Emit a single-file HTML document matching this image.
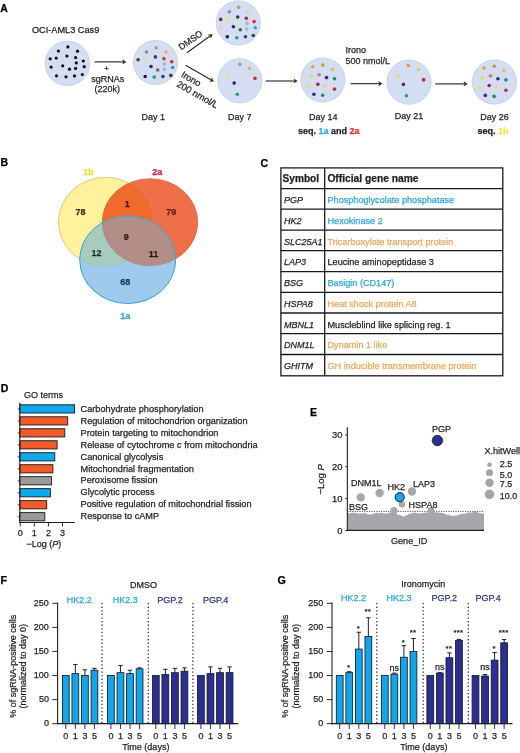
<!DOCTYPE html>
<html><head><meta charset="utf-8"><style>
html,body{margin:0;padding:0;background:#fff;}
body{width:520px;height:753px;overflow:hidden;}
svg{display:block;font-family:"Liberation Sans", sans-serif;will-change:transform;}
text{stroke-width:0.25px;}
</style></head><body>
<svg width="520" height="753" viewBox="0 0 520 753">
<rect width="520" height="753" fill="#fff"/>
<text x="0.3" y="12.1" font-size="10.5" font-weight="bold" font-style="normal" fill="#000" stroke="#000" text-anchor="start" >A</text>
<text x="31.9" y="33.1" font-size="9.2" font-weight="normal" font-style="normal" fill="#231f20" stroke="#231f20" text-anchor="start" >OCI-AML3 Cas9</text>
<circle cx="67.4" cy="63.4" r="22.3" fill="#d4ddf1" stroke="#c3cbe2" stroke-width="0.8"/>
<circle cx="67.9" cy="46.9" r="1.6" fill="#0d0d12"/>
<circle cx="58.4" cy="51.0" r="1.6" fill="#0d0d12"/>
<circle cx="77.5" cy="51.2" r="1.6" fill="#0d0d12"/>
<circle cx="50.2" cy="58.8" r="1.6" fill="#0d0d12"/>
<circle cx="56.2" cy="58.1" r="1.6" fill="#0d0d12"/>
<circle cx="66.9" cy="56.0" r="1.6" fill="#0d0d12"/>
<circle cx="75.6" cy="57.6" r="1.6" fill="#0d0d12"/>
<circle cx="83.3" cy="61.0" r="1.6" fill="#0d0d12"/>
<circle cx="76.3" cy="62.9" r="1.6" fill="#0d0d12"/>
<circle cx="62.7" cy="65.8" r="1.6" fill="#0d0d12"/>
<circle cx="51.1" cy="67.1" r="1.6" fill="#0d0d12"/>
<circle cx="84.2" cy="66.7" r="1.6" fill="#0d0d12"/>
<circle cx="69.5" cy="69.2" r="1.6" fill="#0d0d12"/>
<circle cx="75.6" cy="68.4" r="1.6" fill="#0d0d12"/>
<circle cx="56.5" cy="75.8" r="1.6" fill="#0d0d12"/>
<circle cx="66.0" cy="76.8" r="1.6" fill="#0d0d12"/>
<circle cx="74.5" cy="75.9" r="1.6" fill="#0d0d12"/>
<circle cx="82.3" cy="74.5" r="1.6" fill="#0d0d12"/>
<line x1="94.6" y1="61.9" x2="122.9" y2="61.9" stroke="#2a2a2a" stroke-width="1.15" />
<polygon points="126.40,61.90 122.40,64.50 123.20,61.90 122.40,59.30" fill="#2a2a2a"/>
<text x="106.6" y="70.6" font-size="8" font-weight="normal" font-style="normal" fill="#231f20" stroke="#231f20" text-anchor="middle" >+</text>
<text x="107.8" y="81.7" font-size="9" font-weight="normal" font-style="normal" fill="#231f20" stroke="#231f20" text-anchor="middle" >sgRNAs</text>
<text x="107.3" y="92.1" font-size="9" font-weight="normal" font-style="normal" fill="#231f20" stroke="#231f20" text-anchor="middle" >(220k)</text>
<circle cx="155.5" cy="62.5" r="22.1" fill="#d4ddf1" stroke="#c3cbe2" stroke-width="0.8"/>
<circle cx="156.2" cy="47.7" r="1.8" fill="#b59a72"/>
<circle cx="146.5" cy="52.1" r="1.8" fill="#8f8a9e"/>
<circle cx="166.0" cy="52.1" r="1.8" fill="#e2ad66"/>
<circle cx="138.1" cy="59.8" r="1.8" fill="#7d2447"/>
<circle cx="145.2" cy="59.2" r="1.8" fill="#e6e07a"/>
<circle cx="155.4" cy="56.9" r="1.8" fill="#27473a"/>
<circle cx="164.0" cy="58.8" r="1.8" fill="#b8432f"/>
<circle cx="171.7" cy="61.7" r="1.8" fill="#d92a34"/>
<circle cx="164.4" cy="64.0" r="1.8" fill="#9db5c6"/>
<circle cx="151.0" cy="66.5" r="1.8" fill="#2c2a6c"/>
<circle cx="157.7" cy="70.0" r="1.8" fill="#6b6262"/>
<circle cx="164.4" cy="69.4" r="1.8" fill="#8cc3da"/>
<circle cx="172.7" cy="67.5" r="1.8" fill="#3a9bb3"/>
<circle cx="145.2" cy="76.5" r="1.8" fill="#1b1b4a"/>
<circle cx="154.2" cy="77.1" r="1.8" fill="#1f9f82"/>
<circle cx="162.9" cy="76.5" r="1.8" fill="#2a3a7a"/>
<circle cx="170.8" cy="75.4" r="1.8" fill="#3a3a5a"/>
<line x1="186.9" y1="52.7" x2="209.7594201769398" y2="36.244775359012195" stroke="#2a2a2a" stroke-width="1.15" />
<polygon points="212.60,34.20 210.87,38.65 210.00,36.07 207.83,34.43" fill="#2a2a2a"/>
<line x1="185.6" y1="65.2" x2="210.86710229824462" y2="79.75313665941297" stroke="#2a2a2a" stroke-width="1.15" />
<polygon points="213.90,81.50 209.14,81.76 211.13,79.90 211.73,77.25" fill="#2a2a2a"/>
<text font-size="9" fill="#231f20" stroke="#231f20" transform="translate(181.3,50.6) rotate(-35.5)">DMSO</text>
<text font-size="9.3" fill="#231f20" stroke="#231f20" transform="translate(180.4,76.4) rotate(29.5)">Irono</text>
<text font-size="9.3" fill="#231f20" stroke="#231f20" transform="translate(176.0,86.0) rotate(29.5)">200 nmol/L</text>
<circle cx="238.3" cy="23.0" r="22.1" fill="#d4ddf1" stroke="#c3cbe2" stroke-width="0.8"/>
<circle cx="238.6" cy="7.3" r="1.8" fill="#b59a72"/>
<circle cx="229.4" cy="11.8" r="1.8" fill="#8f8a9e"/>
<circle cx="247.7" cy="11.8" r="1.8" fill="#ddd78f"/>
<circle cx="220.7" cy="19.4" r="1.8" fill="#7d2447"/>
<circle cx="227.0" cy="18.7" r="1.8" fill="#e6e07a"/>
<circle cx="237.7" cy="17.0" r="1.8" fill="#27473a"/>
<circle cx="246.3" cy="18.2" r="1.8" fill="#9a3040"/>
<circle cx="254.1" cy="21.6" r="1.8" fill="#d92a34"/>
<circle cx="247.2" cy="23.4" r="1.8" fill="#9db5c6"/>
<circle cx="221.2" cy="27.7" r="1.8" fill="#f0c8b4"/>
<circle cx="233.4" cy="26.8" r="1.8" fill="#2c2a6c"/>
<circle cx="240.3" cy="29.8" r="1.8" fill="#2f6b4a"/>
<circle cx="246.7" cy="29.1" r="1.8" fill="#8cc3da"/>
<circle cx="255.3" cy="27.7" r="1.8" fill="#2aa7d6"/>
<circle cx="227.3" cy="36.7" r="1.8" fill="#1b1b4a"/>
<circle cx="236.8" cy="37.7" r="1.8" fill="#1f9f82"/>
<circle cx="245.5" cy="36.7" r="1.8" fill="#2a3a7a"/>
<circle cx="253.3" cy="35.5" r="1.8" fill="#3a3a5a"/>
<circle cx="238.0" cy="23.0" r="1.6" fill="#e4e6b8"/>
<circle cx="239.8" cy="80.8" r="22.1" fill="#d4ddf1" stroke="#c3cbe2" stroke-width="0.8"/>
<circle cx="239.8" cy="64.4" r="1.8" fill="#b59a72"/>
<circle cx="249.5" cy="68.4" r="1.8" fill="#eab07a"/>
<circle cx="227.7" cy="75.3" r="1.8" fill="#e6e07a"/>
<circle cx="255.0" cy="78.4" r="1.8" fill="#d92a34"/>
<circle cx="234.2" cy="83.1" r="1.8" fill="#2c2a6c"/>
<circle cx="237.3" cy="94.3" r="1.8" fill="#1f9f6a"/>
<line x1="265.7" y1="81.0" x2="294.1" y2="81.0" stroke="#2a2a2a" stroke-width="1.15" />
<polygon points="297.60,81.00 293.60,83.60 294.40,81.00 293.60,78.40" fill="#2a2a2a"/>
<circle cx="322.9" cy="80.0" r="22.1" fill="#d4ddf1" stroke="#c3cbe2" stroke-width="0.8"/>
<circle cx="312.6" cy="66.8" r="1.8" fill="#e3a040"/>
<circle cx="322.8" cy="65.0" r="1.8" fill="#c8963a"/>
<circle cx="332.4" cy="69.4" r="1.8" fill="#d8c452"/>
<circle cx="311.2" cy="76.6" r="1.8" fill="#e8dc56"/>
<circle cx="319.1" cy="74.7" r="1.8" fill="#d47a52"/>
<circle cx="326.5" cy="77.6" r="1.8" fill="#3a2684"/>
<circle cx="334.5" cy="78.7" r="1.8" fill="#1f8f5a"/>
<circle cx="308.1" cy="85.8" r="1.8" fill="#ece060"/>
<circle cx="317.8" cy="84.3" r="1.8" fill="#a8204a"/>
<circle cx="325.0" cy="85.8" r="1.8" fill="#efd564"/>
<circle cx="334.5" cy="89.1" r="1.8" fill="#cc2a2e"/>
<circle cx="313.9" cy="94.2" r="1.8" fill="#452488"/>
<circle cx="322.7" cy="95.2" r="1.8" fill="#1f8f4f"/>
<line x1="350.5" y1="83.7" x2="378.9" y2="83.7" stroke="#2a2a2a" stroke-width="1.15" />
<polygon points="382.40,83.70 378.40,86.30 379.20,83.70 378.40,81.10" fill="#2a2a2a"/>
<text x="345.4" y="53.4" font-size="9" font-weight="normal" font-style="normal" fill="#231f20" stroke="#231f20" text-anchor="start" >Irono</text>
<text x="345.4" y="64.2" font-size="9" font-weight="normal" font-style="normal" fill="#231f20" stroke="#231f20" text-anchor="start" >500 nmol/L</text>
<circle cx="409.0" cy="82.2" r="22.1" fill="#d4ddf1" stroke="#c3cbe2" stroke-width="0.8"/>
<circle cx="408.3" cy="65.6" r="1.8" fill="#e0983a"/>
<circle cx="418.5" cy="69.6" r="1.8" fill="#e2c66a"/>
<circle cx="397.5" cy="76.3" r="1.8" fill="#ecdc5e"/>
<circle cx="423.6" cy="79.8" r="1.8" fill="#b8265a"/>
<circle cx="403.4" cy="84.4" r="1.8" fill="#5a2a8a"/>
<circle cx="406.4" cy="95.7" r="1.8" fill="#1fa57a"/>
<circle cx="423.6" cy="79.8" r="2.6" fill="#f2b8c0" opacity="0.7"/>
<circle cx="423.6" cy="79.8" r="1.8" fill="#b8265a"/>
<line x1="435.2" y1="83.9" x2="464.1" y2="83.9" stroke="#2a2a2a" stroke-width="1.15" />
<polygon points="467.60,83.90 463.60,86.50 464.40,83.90 463.60,81.30" fill="#2a2a2a"/>
<circle cx="494.4" cy="82.0" r="22.1" fill="#d4ddf1" stroke="#c3cbe2" stroke-width="0.8"/>
<circle cx="484.0" cy="68.0" r="1.8" fill="#e3a040"/>
<circle cx="494.20000000000005" cy="66.2" r="1.8" fill="#c8963a"/>
<circle cx="503.79999999999995" cy="70.60000000000001" r="1.8" fill="#d8c452"/>
<circle cx="482.6" cy="77.8" r="1.8" fill="#e8dc56"/>
<circle cx="490.5" cy="75.9" r="1.8" fill="#d47a52"/>
<circle cx="497.9" cy="78.8" r="1.8" fill="#3a2684"/>
<circle cx="505.9" cy="79.9" r="1.8" fill="#1f8f5a"/>
<circle cx="479.5" cy="87.0" r="1.8" fill="#ece060"/>
<circle cx="489.20000000000005" cy="85.5" r="1.8" fill="#a8204a"/>
<circle cx="496.4" cy="87.0" r="1.8" fill="#efd564"/>
<circle cx="505.9" cy="90.3" r="1.8" fill="#cc2a2e"/>
<circle cx="485.29999999999995" cy="95.4" r="1.8" fill="#452488"/>
<circle cx="494.1" cy="96.4" r="1.8" fill="#1f8f4f"/>
<text x="141.5" y="119.6" font-size="9" font-weight="normal" font-style="normal" fill="#231f20" stroke="#231f20" text-anchor="start" >Day 1</text>
<text x="228.0" y="119.6" font-size="9" font-weight="normal" font-style="normal" fill="#231f20" stroke="#231f20" text-anchor="start" >Day 7</text>
<text x="308.9" y="119.5" font-size="9" font-weight="normal" font-style="normal" fill="#231f20" stroke="#231f20" text-anchor="start" >Day 14</text>
<text x="394.8" y="119.4" font-size="9" font-weight="normal" font-style="normal" fill="#231f20" stroke="#231f20" text-anchor="start" >Day 21</text>
<text x="480.2" y="119.5" font-size="9" font-weight="normal" font-style="normal" fill="#231f20" stroke="#231f20" text-anchor="start" >Day 26</text>
<text x="298" y="134.4" font-size="9" font-weight="bold" fill="#231f20" stroke="#231f20">seq. <tspan fill="#27aae1" stroke="#27aae1">1a</tspan> and <tspan fill="#e8262d" stroke="#e8262d">2a</tspan></text>
<text x="477.5" y="134.4" font-size="9" font-weight="bold" fill="#231f20" stroke="#231f20">seq. <tspan fill="#f3e651" stroke="#f3e651">1b</tspan></text>
<text x="0.6" y="165.9" font-size="10.5" font-weight="bold" font-style="normal" fill="#000" stroke="#000" text-anchor="start" >B</text>
<defs><clipPath id="cY"><ellipse cx="105.5" cy="221.9" rx="47.0" ry="44.6" fill="#000" stroke="none" stroke-width="0" /></clipPath><clipPath id="cR"><ellipse cx="150.0" cy="222.2" rx="47.7" ry="43.5" fill="#000" stroke="none" stroke-width="0" /></clipPath><clipPath id="cB"><ellipse cx="127.7" cy="259.7" rx="48.0" ry="43.8" fill="#000" stroke="none" stroke-width="0" /></clipPath></defs>
<ellipse cx="105.5" cy="221.9" rx="47.0" ry="44.6" fill="#fef29c" stroke="#e2b665" stroke-width="0.8" />
<ellipse cx="150.0" cy="222.2" rx="47.7" ry="43.5" fill="#ef6f48" stroke="#e5643f" stroke-width="0.8" />
<g clip-path="url(#cY)"><ellipse cx="150.0" cy="222.2" rx="47.7" ry="43.5" fill="#f06a2e" stroke="none" stroke-width="0" /></g>
<g clip-path="url(#cR)"><ellipse cx="105.5" cy="221.9" rx="47.0" ry="44.6" fill="none" stroke="#e86a30" stroke-width="0.7" /></g>
<ellipse cx="127.7" cy="259.7" rx="48.0" ry="43.8" fill="#9fcaee" stroke="none" stroke-width="0" />
<g clip-path="url(#cB)"><ellipse cx="105.5" cy="221.9" rx="47.0" ry="44.6" fill="#a7ccbf" stroke="#9cc0b4" stroke-width="0.7" /></g>
<g clip-path="url(#cB)"><ellipse cx="150.0" cy="222.2" rx="47.7" ry="43.5" fill="#b38e88" stroke="#a98680" stroke-width="0.7" /></g>
<ellipse cx="127.7" cy="259.7" rx="48.0" ry="43.8" fill="none" stroke="#2fa9c9" stroke-width="1.0" />
<text x="83.0" y="175.0" font-size="9" font-weight="bold" font-style="normal" fill="#efe23a" stroke="#efe23a" text-anchor="start" >1b</text>
<text x="152.3" y="174.5" font-size="9" font-weight="bold" font-style="normal" fill="#d0203f" stroke="#d0203f" text-anchor="start" >2a</text>
<text x="120.2" y="318.8" font-size="9" font-weight="bold" font-style="normal" fill="#3a9fd0" stroke="#3a9fd0" text-anchor="start" >1a</text>
<text x="80.5" y="214.9" font-size="9" font-weight="bold" font-style="normal" fill="#3d3814" stroke="#3d3814" text-anchor="middle" >78</text>
<text x="171.2" y="214.6" font-size="9" font-weight="bold" font-style="normal" fill="#5a1c0c" stroke="#5a1c0c" text-anchor="middle" >79</text>
<text x="127.2" y="207.0" font-size="9" font-weight="bold" font-style="normal" fill="#4a1506" stroke="#4a1506" text-anchor="middle" >1</text>
<text x="126.3" y="240.4" font-size="9" font-weight="bold" font-style="normal" fill="#2e1a14" stroke="#2e1a14" text-anchor="middle" >9</text>
<text x="96.6" y="256.0" font-size="9" font-weight="bold" font-style="normal" fill="#1c302a" stroke="#1c302a" text-anchor="middle" >12</text>
<text x="153.6" y="257.2" font-size="9" font-weight="bold" font-style="normal" fill="#2e1a14" stroke="#2e1a14" text-anchor="middle" >11</text>
<text x="125.2" y="285.4" font-size="9" font-weight="bold" font-style="normal" fill="#12385a" stroke="#12385a" text-anchor="middle" >68</text>
<text x="260.5" y="166.5" font-size="10.5" font-weight="bold" font-style="normal" fill="#000" stroke="#000" text-anchor="start" >C</text>
<rect x="280.9" y="167.9" width="221.90000000000003" height="207.9" fill="none" stroke="#1a1a1a" stroke-width="1.3"/>
<line x1="280.9" y1="188.6" x2="502.8" y2="188.6" stroke="#1a1a1a" stroke-width="1.3" />
<line x1="280.9" y1="209.1" x2="502.8" y2="209.1" stroke="#1a1a1a" stroke-width="1.3" />
<line x1="280.9" y1="230.1" x2="502.8" y2="230.1" stroke="#1a1a1a" stroke-width="1.3" />
<line x1="280.9" y1="250.6" x2="502.8" y2="250.6" stroke="#1a1a1a" stroke-width="1.3" />
<line x1="280.9" y1="271.6" x2="502.8" y2="271.6" stroke="#1a1a1a" stroke-width="1.3" />
<line x1="280.9" y1="292.3" x2="502.8" y2="292.3" stroke="#1a1a1a" stroke-width="1.3" />
<line x1="280.9" y1="313.0" x2="502.8" y2="313.0" stroke="#1a1a1a" stroke-width="1.3" />
<line x1="280.9" y1="333.7" x2="502.8" y2="333.7" stroke="#1a1a1a" stroke-width="1.3" />
<line x1="280.9" y1="354.5" x2="502.8" y2="354.5" stroke="#1a1a1a" stroke-width="1.3" />
<line x1="324.7" y1="167.9" x2="324.7" y2="375.8" stroke="#1a1a1a" stroke-width="1.3" />
<text x="282.6" y="181.9" font-size="10.1" font-weight="bold" font-style="normal" fill="#231f20" stroke="#231f20" text-anchor="start" >Symbol</text>
<text x="327.4" y="181.9" font-size="10.25" font-weight="bold" font-style="normal" fill="#231f20" stroke="#231f20" text-anchor="start" >Official gene name</text>
<text x="283.9" y="203.1" font-size="9" font-weight="normal" font-style="italic" fill="#231f20" stroke="#231f20" text-anchor="start" >PGP</text>
<text x="327.5" y="203.1" font-size="9.12" font-weight="normal" font-style="normal" fill="#2ea7df" stroke="#2ea7df" text-anchor="start" >Phosphoglycolate phosphatase</text>
<text x="283.9" y="223.6" font-size="9" font-weight="normal" font-style="italic" fill="#231f20" stroke="#231f20" text-anchor="start" >HK2</text>
<text x="327.5" y="223.6" font-size="9.12" font-weight="normal" font-style="normal" fill="#2ea7df" stroke="#2ea7df" text-anchor="start" >Hexokinase 2</text>
<text x="283.9" y="244.6" font-size="9" font-weight="normal" font-style="italic" fill="#231f20" stroke="#231f20" text-anchor="start" >SLC25A1</text>
<text x="327.5" y="244.6" font-size="9.12" font-weight="normal" font-style="normal" fill="#eea85a" stroke="#eea85a" text-anchor="start" >Tricarboxylate transport protein</text>
<text x="283.9" y="265.1" font-size="9" font-weight="normal" font-style="italic" fill="#231f20" stroke="#231f20" text-anchor="start" >LAP3</text>
<text x="327.5" y="265.1" font-size="9.12" font-weight="normal" font-style="normal" fill="#231f20" stroke="#231f20" text-anchor="start" >Leucine aminopeptidase 3</text>
<text x="283.9" y="286.1" font-size="9" font-weight="normal" font-style="italic" fill="#231f20" stroke="#231f20" text-anchor="start" >BSG</text>
<text x="327.5" y="286.1" font-size="9.12" font-weight="normal" font-style="normal" fill="#2ea7df" stroke="#2ea7df" text-anchor="start" >Basigin (CD147)</text>
<text x="283.9" y="306.8" font-size="9" font-weight="normal" font-style="italic" fill="#231f20" stroke="#231f20" text-anchor="start" >HSPA8</text>
<text x="327.5" y="306.8" font-size="9.12" font-weight="normal" font-style="normal" fill="#eea85a" stroke="#eea85a" text-anchor="start" >Heat shock protein A8</text>
<text x="283.9" y="327.5" font-size="9" font-weight="normal" font-style="italic" fill="#231f20" stroke="#231f20" text-anchor="start" >MBNL1</text>
<text x="327.5" y="327.5" font-size="9.12" font-weight="normal" font-style="normal" fill="#231f20" stroke="#231f20" text-anchor="start" >Muscleblind like splicing reg. 1</text>
<text x="283.9" y="348.2" font-size="9" font-weight="normal" font-style="italic" fill="#231f20" stroke="#231f20" text-anchor="start" >DNM1L</text>
<text x="327.5" y="348.2" font-size="9.12" font-weight="normal" font-style="normal" fill="#eea85a" stroke="#eea85a" text-anchor="start" >Dynamin 1 like</text>
<text x="283.9" y="369.0" font-size="9" font-weight="normal" font-style="italic" fill="#231f20" stroke="#231f20" text-anchor="start" >GHITM</text>
<text x="327.5" y="369.0" font-size="9.12" font-weight="normal" font-style="normal" fill="#eea85a" stroke="#eea85a" text-anchor="start" >GH inducible transmembrane protein</text>
<text x="0.8" y="391.9" font-size="10.5" font-weight="bold" font-style="normal" fill="#000" stroke="#000" text-anchor="start" >D</text>
<text x="24.0" y="397.7" font-size="9" font-weight="normal" font-style="normal" fill="#231f20" stroke="#231f20" text-anchor="start" >GO terms</text>
<rect x="19.8" y="404.80" width="54.80" height="8.2" fill="#0fa8ec" stroke="#1a1a1a" stroke-width="0.9"/>
<line x1="17.6" y1="408.9" x2="19.8" y2="408.9" stroke="#231f20" stroke-width="0.8" />
<text x="80.5" y="411.60" font-size="9.2" fill="#231f20" stroke="#231f20">Carbohydrate phosphorylation</text>
<rect x="19.8" y="416.78" width="47.90" height="8.2" fill="#f15a29" stroke="#1a1a1a" stroke-width="0.9"/>
<line x1="17.6" y1="420.88" x2="19.8" y2="420.88" stroke="#231f20" stroke-width="0.8" />
<text x="80.5" y="423.58" font-size="9.2" fill="#231f20" stroke="#231f20">Regulation of mitochondrion organization</text>
<rect x="19.8" y="428.76" width="45.00" height="8.2" fill="#f15a29" stroke="#1a1a1a" stroke-width="0.9"/>
<line x1="17.6" y1="432.85999999999996" x2="19.8" y2="432.85999999999996" stroke="#231f20" stroke-width="0.8" />
<text x="80.5" y="435.56" font-size="9.2" fill="#231f20" stroke="#231f20">Protein targeting to mitochondrion</text>
<rect x="19.8" y="440.74" width="37.30" height="8.2" fill="#f15a29" stroke="#1a1a1a" stroke-width="0.9"/>
<line x1="17.6" y1="444.84" x2="19.8" y2="444.84" stroke="#231f20" stroke-width="0.8" />
<text x="80.5" y="447.54" font-size="9.2" fill="#231f20" stroke="#231f20">Release of cytochrome <tspan font-style="italic">c</tspan> from mitochondria</text>
<rect x="19.8" y="452.72" width="35.00" height="8.2" fill="#0fa8ec" stroke="#1a1a1a" stroke-width="0.9"/>
<line x1="17.6" y1="456.82" x2="19.8" y2="456.82" stroke="#231f20" stroke-width="0.8" />
<text x="80.5" y="459.52" font-size="9.2" fill="#231f20" stroke="#231f20">Canonical glycolysis</text>
<rect x="19.8" y="464.70" width="33.10" height="8.2" fill="#f15a29" stroke="#1a1a1a" stroke-width="0.9"/>
<line x1="17.6" y1="468.79999999999995" x2="19.8" y2="468.79999999999995" stroke="#231f20" stroke-width="0.8" />
<text x="80.5" y="471.50" font-size="9.2" fill="#231f20" stroke="#231f20">Mitochondrial fragmentation</text>
<rect x="19.8" y="476.68" width="31.80" height="8.2" fill="#999a9c" stroke="#1a1a1a" stroke-width="0.9"/>
<line x1="17.6" y1="480.78" x2="19.8" y2="480.78" stroke="#231f20" stroke-width="0.8" />
<text x="80.5" y="483.48" font-size="9.2" fill="#231f20" stroke="#231f20">Peroxisome fission</text>
<rect x="19.8" y="488.66" width="30.60" height="8.2" fill="#0fa8ec" stroke="#1a1a1a" stroke-width="0.9"/>
<line x1="17.6" y1="492.76" x2="19.8" y2="492.76" stroke="#231f20" stroke-width="0.8" />
<text x="80.5" y="495.46" font-size="9.2" fill="#231f20" stroke="#231f20">Glycolytic process</text>
<rect x="19.8" y="500.64" width="26.90" height="8.2" fill="#f15a29" stroke="#1a1a1a" stroke-width="0.9"/>
<line x1="17.6" y1="504.74" x2="19.8" y2="504.74" stroke="#231f20" stroke-width="0.8" />
<text x="80.5" y="507.44" font-size="9.2" fill="#231f20" stroke="#231f20">Positive regulation of mitochondrial fission</text>
<rect x="19.8" y="512.62" width="25.00" height="8.2" fill="#999a9c" stroke="#1a1a1a" stroke-width="0.9"/>
<line x1="17.6" y1="516.72" x2="19.8" y2="516.72" stroke="#231f20" stroke-width="0.8" />
<text x="80.5" y="519.42" font-size="9.2" fill="#231f20" stroke="#231f20">Response to cAMP</text>
<line x1="19.8" y1="402.7" x2="19.8" y2="523.0" stroke="#231f20" stroke-width="1.1" />
<line x1="19.3" y1="522.5" x2="74.8" y2="522.5" stroke="#231f20" stroke-width="1.1" />
<line x1="20.2" y1="522.5" x2="20.2" y2="526.5" stroke="#231f20" stroke-width="0.95" />
<text x="20.2" y="536.0" font-size="9" font-weight="normal" font-style="normal" fill="#231f20" stroke="#231f20" text-anchor="middle" >0</text>
<line x1="34.3" y1="522.5" x2="34.3" y2="526.5" stroke="#231f20" stroke-width="0.95" />
<text x="34.3" y="536.0" font-size="9" font-weight="normal" font-style="normal" fill="#231f20" stroke="#231f20" text-anchor="middle" >1</text>
<line x1="48.4" y1="522.5" x2="48.4" y2="526.5" stroke="#231f20" stroke-width="0.95" />
<text x="48.4" y="536.0" font-size="9" font-weight="normal" font-style="normal" fill="#231f20" stroke="#231f20" text-anchor="middle" >2</text>
<line x1="62.5" y1="522.5" x2="62.5" y2="526.5" stroke="#231f20" stroke-width="0.95" />
<text x="62.5" y="536.0" font-size="9" font-weight="normal" font-style="normal" fill="#231f20" stroke="#231f20" text-anchor="middle" >3</text>
<text x="43.8" y="546.5" font-size="9" fill="#231f20" stroke="#231f20" text-anchor="middle">−Log (<tspan font-style="italic">P</tspan>)</text>
<text x="310.0" y="416.2" font-size="10.5" font-weight="bold" font-style="normal" fill="#000" stroke="#000" text-anchor="start" >E</text>
<polygon points="347.4,530.4 347.4,513.4 348.6,513.1 349.8,513.4 351.0,512.7 352.2,513.0 353.4,512.7 354.6,512.6 355.8,513.3 357.0,513.1 358.2,513.7 359.4,513.4 360.6,513.2 361.8,513.4 363.0,513.6 364.2,512.8 365.4,513.0 366.6,513.8 367.8,514.4 369.0,514.3 370.2,514.4 371.4,514.7 372.6,513.6 373.8,514.1 375.0,513.3 376.2,513.0 377.4,512.8 378.6,512.9 379.8,513.3 381.0,512.5 382.2,513.1 383.4,513.4 384.6,513.3 385.8,513.7 387.0,513.4 388.2,512.9 389.4,512.6 390.6,512.7 391.8,512.0 393.0,511.9 394.2,512.8 395.4,513.2 396.6,513.6 397.8,514.7 399.0,515.1 400.2,515.0 401.4,515.8 402.6,516.2 403.8,516.8 405.0,516.1 406.2,515.1 407.4,515.2 408.6,513.8 409.8,513.7 411.0,513.7 412.2,512.8 413.4,512.9 414.6,512.2 415.8,512.9 417.0,513.2 418.2,513.2 419.4,513.6 420.6,513.2 421.8,513.3 423.0,513.0 424.2,512.8 425.4,512.4 426.6,512.6 427.8,512.4 429.0,511.7 430.2,511.6 431.4,510.8 432.6,511.7 433.8,511.9 435.0,512.5 436.2,512.6 437.4,512.3 438.6,512.6 439.8,513.1 441.0,512.7 442.2,513.3 443.4,513.3 444.6,513.7 445.8,514.0 447.0,515.1 448.2,514.8 449.4,515.1 450.6,515.4 451.8,516.1 453.0,515.5 454.2,515.8 455.4,515.6 456.6,515.6 457.8,515.2 459.0,514.9 460.2,514.1 461.4,514.0 462.6,513.7 463.8,514.0 465.0,513.8 466.2,512.9 467.4,512.7 468.6,512.6 469.8,512.4 471.0,512.5 472.2,512.5 473.4,512.0 474.6,511.6 475.8,511.9 477.0,512.0 478.2,512.5 479.4,513.1 480.6,513.2 481.8,513.2 483.0,513.5 484.0,513.7 484,530.4" fill="#a6a7ab"/>
<line x1="347.4" y1="511.4" x2="484.0" y2="511.4" stroke="#231f20" stroke-width="0.8" stroke-dasharray="1.2,1.2"/>
<line x1="347.4" y1="427.3" x2="347.4" y2="531.0" stroke="#3a3a3a" stroke-width="1.3" />
<line x1="346.9" y1="530.4" x2="484.0" y2="530.4" stroke="#231f20" stroke-width="1.1" />
<line x1="345.4" y1="434.88" x2="347.4" y2="434.88" stroke="#231f20" stroke-width="1.0" />
<text x="342.4" y="438.18" font-size="9.4" font-weight="normal" font-style="normal" fill="#231f20" stroke="#231f20" text-anchor="end" >30</text>
<line x1="345.4" y1="466.71999999999997" x2="347.4" y2="466.71999999999997" stroke="#231f20" stroke-width="1.0" />
<text x="342.4" y="470.02" font-size="9.4" font-weight="normal" font-style="normal" fill="#231f20" stroke="#231f20" text-anchor="end" >20</text>
<line x1="345.4" y1="498.55999999999995" x2="347.4" y2="498.55999999999995" stroke="#231f20" stroke-width="1.0" />
<text x="342.4" y="501.85999999999996" font-size="9.4" font-weight="normal" font-style="normal" fill="#231f20" stroke="#231f20" text-anchor="end" >10</text>
<line x1="345.4" y1="530.4" x2="347.4" y2="530.4" stroke="#231f20" stroke-width="1.0" />
<text x="342.4" y="533.6999999999999" font-size="9.4" font-weight="normal" font-style="normal" fill="#231f20" stroke="#231f20" text-anchor="end" >0</text>
<text font-size="9.5" fill="#231f20" stroke="#231f20" text-anchor="middle" transform="translate(324.4,479.4) rotate(-90)">−Log <tspan font-style="italic">P</tspan></text>
<circle cx="394.0" cy="510.6" r="3.5" fill="#a7a8aa"/>
<circle cx="431.0" cy="510.4" r="3.5" fill="#a7a8aa"/>
<circle cx="360.7" cy="497.4" r="4.2" fill="#a7a8aa"/>
<circle cx="379.6" cy="493.0" r="4.2" fill="#a7a8aa"/>
<circle cx="411.9" cy="491.5" r="4.2" fill="#a7a8aa"/>
<circle cx="402.0" cy="504.2" r="3.2" fill="#a7a8aa"/>
<circle cx="399.7" cy="497.2" r="4.6" fill="#12a8ea" stroke="#111" stroke-width="0.9"/>
<circle cx="437.4" cy="440.5" r="5.2" fill="#2b3090" stroke="#1a1a40" stroke-width="0.9"/>
<text x="432.0" y="432.3" font-size="9" font-weight="normal" font-style="normal" fill="#231f20" stroke="#231f20" text-anchor="start" >PGP</text>
<text x="351.0" y="486.0" font-size="9" font-weight="normal" font-style="normal" fill="#231f20" stroke="#231f20" text-anchor="start" >DNM1L</text>
<text x="387.6" y="489.8" font-size="9" font-weight="normal" font-style="normal" fill="#231f20" stroke="#231f20" text-anchor="start" >HK2</text>
<text x="413.0" y="486.6" font-size="9" font-weight="normal" font-style="normal" fill="#231f20" stroke="#231f20" text-anchor="start" >LAP3</text>
<text x="348.9" y="510.0" font-size="9" font-weight="normal" font-style="normal" fill="#231f20" stroke="#231f20" text-anchor="start" >BSG</text>
<text x="408.6" y="507.5" font-size="9" font-weight="normal" font-style="normal" fill="#231f20" stroke="#231f20" text-anchor="start" >HSPA8</text>
<text x="409.2" y="543.8" font-size="9.1" font-weight="normal" font-style="normal" fill="#231f20" stroke="#231f20" text-anchor="middle" >Gene_ID</text>
<text x="484.6" y="454.4" font-size="9" font-weight="normal" font-style="normal" fill="#231f20" stroke="#231f20" text-anchor="start" >X.hitWell</text>
<circle cx="489.5" cy="464.8" r="2.3" fill="#a3a4a8"/>
<text x="499.8" y="467.4" font-size="9" font-weight="normal" font-style="normal" fill="#231f20" stroke="#231f20" text-anchor="start" >2.5</text>
<circle cx="489.5" cy="472.7" r="3.5" fill="#a3a4a8"/>
<text x="499.8" y="477.5" font-size="9" font-weight="normal" font-style="normal" fill="#231f20" stroke="#231f20" text-anchor="start" >5.0</text>
<circle cx="489.5" cy="482.8" r="4.2" fill="#a3a4a8"/>
<text x="499.8" y="487.4" font-size="9" font-weight="normal" font-style="normal" fill="#231f20" stroke="#231f20" text-anchor="start" >7.5</text>
<circle cx="489.5" cy="494.3" r="4.8" fill="#a3a4a8"/>
<text x="499.8" y="498.6" font-size="9" font-weight="normal" font-style="normal" fill="#231f20" stroke="#231f20" text-anchor="start" >10.0</text>
<text x="0.4" y="584.3" font-size="10.8" font-weight="bold" font-style="normal" fill="#000" stroke="#000" text-anchor="start" >F</text>
<text x="143.6" y="587.6" font-size="9" font-weight="normal" font-style="normal" fill="#231f20" stroke="#231f20" text-anchor="middle" >DMSO</text>
<line x1="57.6" y1="602.5" x2="57.6" y2="724.2" stroke="#231f20" stroke-width="1.1" />
<line x1="52.300000000000004" y1="723.7" x2="57.6" y2="723.7" stroke="#231f20" stroke-width="0.95" />
<text x="48.900000000000006" y="726.2" font-size="9" font-weight="normal" font-style="normal" fill="#231f20" stroke="#231f20" text-anchor="end" >0</text>
<line x1="52.300000000000004" y1="699.625" x2="57.6" y2="699.625" stroke="#231f20" stroke-width="0.95" />
<text x="48.900000000000006" y="702.125" font-size="9" font-weight="normal" font-style="normal" fill="#231f20" stroke="#231f20" text-anchor="end" >50</text>
<line x1="52.300000000000004" y1="675.5500000000001" x2="57.6" y2="675.5500000000001" stroke="#231f20" stroke-width="0.95" />
<text x="48.900000000000006" y="678.0500000000001" font-size="9" font-weight="normal" font-style="normal" fill="#231f20" stroke="#231f20" text-anchor="end" >100</text>
<line x1="52.300000000000004" y1="651.475" x2="57.6" y2="651.475" stroke="#231f20" stroke-width="0.95" />
<text x="48.900000000000006" y="653.975" font-size="9" font-weight="normal" font-style="normal" fill="#231f20" stroke="#231f20" text-anchor="end" >150</text>
<line x1="52.300000000000004" y1="627.4000000000001" x2="57.6" y2="627.4000000000001" stroke="#231f20" stroke-width="0.95" />
<text x="48.900000000000006" y="629.9000000000001" font-size="9" font-weight="normal" font-style="normal" fill="#231f20" stroke="#231f20" text-anchor="end" >200</text>
<line x1="52.300000000000004" y1="603.325" x2="57.6" y2="603.325" stroke="#231f20" stroke-width="0.95" />
<text x="48.900000000000006" y="605.825" font-size="9" font-weight="normal" font-style="normal" fill="#231f20" stroke="#231f20" text-anchor="end" >250</text>
<line x1="57.1" y1="723.7" x2="238.4" y2="723.7" stroke="#231f20" stroke-width="1.3" />
<text font-size="9" fill="#231f20" stroke="#231f20" text-anchor="middle" transform="translate(15.6,666.3) rotate(-90)">% of sgRNA-positive cells</text>
<text font-size="9" fill="#231f20" stroke="#231f20" text-anchor="middle" transform="translate(26.2,666.3) rotate(-90)">(normalized to day 0)</text>
<line x1="102.0" y1="603.0" x2="102.0" y2="723.2" stroke="#231f20" stroke-width="1.2" stroke-dasharray="1.3,2.3"/>
<line x1="148.3" y1="603.0" x2="148.3" y2="723.2" stroke="#231f20" stroke-width="1.2" stroke-dasharray="1.3,2.3"/>
<line x1="192.9" y1="603.0" x2="192.9" y2="723.2" stroke="#231f20" stroke-width="1.2" stroke-dasharray="1.3,2.3"/>
<text x="66.7" y="603.4" font-size="9" font-weight="normal" font-style="normal" fill="#27aae1" stroke="#27aae1" text-anchor="start" >HK2.2</text>
<rect x="62.40" y="675.55" width="6.8" height="48.15" fill="#12a5e8" stroke="#161a2a" stroke-width="0.85"/>
<line x1="65.8" y1="723.7" x2="65.8" y2="729.0" stroke="#231f20" stroke-width="0.9" />
<text x="65.8" y="738.9" font-size="9" font-weight="normal" font-style="normal" fill="#231f20" stroke="#231f20" text-anchor="middle" >0</text>
<line x1="75.35000000000001" y1="664.4755" x2="75.35000000000001" y2="673.624" stroke="#231f20" stroke-width="1.0" />
<line x1="73.15" y1="664.4755" x2="77.55000000000001" y2="664.4755" stroke="#231f20" stroke-width="1.0" />
<rect x="71.95" y="673.62" width="6.8" height="50.08" fill="#12a5e8" stroke="#161a2a" stroke-width="0.85"/>
<line x1="75.35000000000001" y1="723.7" x2="75.35000000000001" y2="729.0" stroke="#231f20" stroke-width="0.9" />
<text x="75.35000000000001" y="738.9" font-size="9" font-weight="normal" font-style="normal" fill="#231f20" stroke="#231f20" text-anchor="middle" >1</text>
<line x1="84.9" y1="669.772" x2="84.9" y2="675.5500000000001" stroke="#231f20" stroke-width="1.0" />
<line x1="82.7" y1="669.772" x2="87.10000000000001" y2="669.772" stroke="#231f20" stroke-width="1.0" />
<rect x="81.50" y="675.55" width="6.8" height="48.15" fill="#12a5e8" stroke="#161a2a" stroke-width="0.85"/>
<line x1="84.9" y1="723.7" x2="84.9" y2="729.0" stroke="#231f20" stroke-width="0.9" />
<text x="84.9" y="738.9" font-size="9" font-weight="normal" font-style="normal" fill="#231f20" stroke="#231f20" text-anchor="middle" >3</text>
<line x1="94.45" y1="668.3275000000001" x2="94.45" y2="670.2535" stroke="#231f20" stroke-width="1.0" />
<line x1="92.25" y1="668.3275000000001" x2="96.65" y2="668.3275000000001" stroke="#231f20" stroke-width="1.0" />
<rect x="91.05" y="670.25" width="6.8" height="53.45" fill="#12a5e8" stroke="#161a2a" stroke-width="0.85"/>
<line x1="94.45" y1="723.7" x2="94.45" y2="729.0" stroke="#231f20" stroke-width="0.9" />
<text x="94.45" y="738.9" font-size="9" font-weight="normal" font-style="normal" fill="#231f20" stroke="#231f20" text-anchor="middle" >5</text>
<text x="112.7" y="603.4" font-size="9" font-weight="normal" font-style="normal" fill="#27aae1" stroke="#27aae1" text-anchor="start" >HK2.3</text>
<rect x="107.50" y="675.55" width="6.8" height="48.15" fill="#12a5e8" stroke="#161a2a" stroke-width="0.85"/>
<line x1="110.9" y1="723.7" x2="110.9" y2="729.0" stroke="#231f20" stroke-width="0.9" />
<text x="110.9" y="738.9" font-size="9" font-weight="normal" font-style="normal" fill="#231f20" stroke="#231f20" text-anchor="middle" >0</text>
<line x1="120.45" y1="665.4385000000001" x2="120.45" y2="672.6610000000001" stroke="#231f20" stroke-width="1.0" />
<line x1="118.25" y1="665.4385000000001" x2="122.65" y2="665.4385000000001" stroke="#231f20" stroke-width="1.0" />
<rect x="117.05" y="672.66" width="6.8" height="51.04" fill="#12a5e8" stroke="#161a2a" stroke-width="0.85"/>
<line x1="120.45" y1="723.7" x2="120.45" y2="729.0" stroke="#231f20" stroke-width="0.9" />
<text x="120.45" y="738.9" font-size="9" font-weight="normal" font-style="normal" fill="#231f20" stroke="#231f20" text-anchor="middle" >1</text>
<line x1="130.0" y1="670.2535" x2="130.0" y2="673.624" stroke="#231f20" stroke-width="1.0" />
<line x1="127.8" y1="670.2535" x2="132.2" y2="670.2535" stroke="#231f20" stroke-width="1.0" />
<rect x="126.60" y="673.62" width="6.8" height="50.08" fill="#12a5e8" stroke="#161a2a" stroke-width="0.85"/>
<line x1="130.0" y1="723.7" x2="130.0" y2="729.0" stroke="#231f20" stroke-width="0.9" />
<text x="130.0" y="738.9" font-size="9" font-weight="normal" font-style="normal" fill="#231f20" stroke="#231f20" text-anchor="middle" >3</text>
<line x1="139.55" y1="667.846" x2="139.55" y2="668.8090000000001" stroke="#231f20" stroke-width="1.0" />
<line x1="137.35000000000002" y1="667.846" x2="141.75" y2="667.846" stroke="#231f20" stroke-width="1.0" />
<rect x="136.15" y="668.81" width="6.8" height="54.89" fill="#12a5e8" stroke="#161a2a" stroke-width="0.85"/>
<line x1="139.55" y1="723.7" x2="139.55" y2="729.0" stroke="#231f20" stroke-width="0.9" />
<text x="139.55" y="738.9" font-size="9" font-weight="normal" font-style="normal" fill="#231f20" stroke="#231f20" text-anchor="middle" >5</text>
<text x="157.3" y="603.4" font-size="9" font-weight="normal" font-style="normal" fill="#2e3192" stroke="#2e3192" text-anchor="start" >PGP.2</text>
<rect x="152.40" y="675.55" width="6.8" height="48.15" fill="#2c2e90" stroke="#161a2a" stroke-width="0.85"/>
<line x1="155.8" y1="723.7" x2="155.8" y2="729.0" stroke="#231f20" stroke-width="0.9" />
<text x="155.8" y="738.9" font-size="9" font-weight="normal" font-style="normal" fill="#231f20" stroke="#231f20" text-anchor="middle" >0</text>
<line x1="165.35000000000002" y1="669.2905000000001" x2="165.35000000000002" y2="674.587" stroke="#231f20" stroke-width="1.0" />
<line x1="163.15000000000003" y1="669.2905000000001" x2="167.55" y2="669.2905000000001" stroke="#231f20" stroke-width="1.0" />
<rect x="161.95" y="674.59" width="6.8" height="49.11" fill="#2c2e90" stroke="#161a2a" stroke-width="0.85"/>
<line x1="165.35000000000002" y1="723.7" x2="165.35000000000002" y2="729.0" stroke="#231f20" stroke-width="0.9" />
<text x="165.35000000000002" y="738.9" font-size="9" font-weight="normal" font-style="normal" fill="#231f20" stroke="#231f20" text-anchor="middle" >1</text>
<line x1="174.9" y1="668.3275000000001" x2="174.9" y2="672.6610000000001" stroke="#231f20" stroke-width="1.0" />
<line x1="172.70000000000002" y1="668.3275000000001" x2="177.1" y2="668.3275000000001" stroke="#231f20" stroke-width="1.0" />
<rect x="171.50" y="672.66" width="6.8" height="51.04" fill="#2c2e90" stroke="#161a2a" stroke-width="0.85"/>
<line x1="174.9" y1="723.7" x2="174.9" y2="729.0" stroke="#231f20" stroke-width="0.9" />
<text x="174.9" y="738.9" font-size="9" font-weight="normal" font-style="normal" fill="#231f20" stroke="#231f20" text-anchor="middle" >3</text>
<line x1="184.45000000000002" y1="667.846" x2="184.45000000000002" y2="671.2165" stroke="#231f20" stroke-width="1.0" />
<line x1="182.25000000000003" y1="667.846" x2="186.65" y2="667.846" stroke="#231f20" stroke-width="1.0" />
<rect x="181.05" y="671.22" width="6.8" height="52.48" fill="#2c2e90" stroke="#161a2a" stroke-width="0.85"/>
<line x1="184.45000000000002" y1="723.7" x2="184.45000000000002" y2="729.0" stroke="#231f20" stroke-width="0.9" />
<text x="184.45000000000002" y="738.9" font-size="9" font-weight="normal" font-style="normal" fill="#231f20" stroke="#231f20" text-anchor="middle" >5</text>
<text x="203.0" y="603.4" font-size="9" font-weight="normal" font-style="normal" fill="#2e3192" stroke="#2e3192" text-anchor="start" >PGP.4</text>
<rect x="197.50" y="675.55" width="6.8" height="48.15" fill="#2c2e90" stroke="#161a2a" stroke-width="0.85"/>
<line x1="200.9" y1="723.7" x2="200.9" y2="729.0" stroke="#231f20" stroke-width="0.9" />
<text x="200.9" y="738.9" font-size="9" font-weight="normal" font-style="normal" fill="#231f20" stroke="#231f20" text-anchor="middle" >0</text>
<line x1="210.45000000000002" y1="666.883" x2="210.45000000000002" y2="673.624" stroke="#231f20" stroke-width="1.0" />
<line x1="208.25000000000003" y1="666.883" x2="212.65" y2="666.883" stroke="#231f20" stroke-width="1.0" />
<rect x="207.05" y="673.62" width="6.8" height="50.08" fill="#2c2e90" stroke="#161a2a" stroke-width="0.85"/>
<line x1="210.45000000000002" y1="723.7" x2="210.45000000000002" y2="729.0" stroke="#231f20" stroke-width="0.9" />
<text x="210.45000000000002" y="738.9" font-size="9" font-weight="normal" font-style="normal" fill="#231f20" stroke="#231f20" text-anchor="middle" >1</text>
<line x1="220.0" y1="668.3275000000001" x2="220.0" y2="672.6610000000001" stroke="#231f20" stroke-width="1.0" />
<line x1="217.8" y1="668.3275000000001" x2="222.2" y2="668.3275000000001" stroke="#231f20" stroke-width="1.0" />
<rect x="216.60" y="672.66" width="6.8" height="51.04" fill="#2c2e90" stroke="#161a2a" stroke-width="0.85"/>
<line x1="220.0" y1="723.7" x2="220.0" y2="729.0" stroke="#231f20" stroke-width="0.9" />
<text x="220.0" y="738.9" font-size="9" font-weight="normal" font-style="normal" fill="#231f20" stroke="#231f20" text-anchor="middle" >3</text>
<line x1="229.55" y1="666.883" x2="229.55" y2="672.6610000000001" stroke="#231f20" stroke-width="1.0" />
<line x1="227.35000000000002" y1="666.883" x2="231.75" y2="666.883" stroke="#231f20" stroke-width="1.0" />
<rect x="226.15" y="672.66" width="6.8" height="51.04" fill="#2c2e90" stroke="#161a2a" stroke-width="0.85"/>
<line x1="229.55" y1="723.7" x2="229.55" y2="729.0" stroke="#231f20" stroke-width="0.9" />
<text x="229.55" y="738.9" font-size="9" font-weight="normal" font-style="normal" fill="#231f20" stroke="#231f20" text-anchor="middle" >5</text>
<text x="145.8" y="750.2" font-size="9" font-weight="normal" font-style="normal" fill="#231f20" stroke="#231f20" text-anchor="middle" >Time (days)</text>
<text x="277.5" y="584.3" font-size="10.8" font-weight="bold" font-style="normal" fill="#000" stroke="#000" text-anchor="start" >G</text>
<text x="423.2" y="586.5" font-size="9" font-weight="normal" font-style="normal" fill="#231f20" stroke="#231f20" text-anchor="middle" >Ironomycin</text>
<line x1="332.0" y1="602.5" x2="332.0" y2="724.2" stroke="#231f20" stroke-width="1.1" />
<line x1="326.7" y1="723.7" x2="332.0" y2="723.7" stroke="#231f20" stroke-width="0.95" />
<text x="323.3" y="726.2" font-size="9" font-weight="normal" font-style="normal" fill="#231f20" stroke="#231f20" text-anchor="end" >0</text>
<line x1="326.7" y1="699.625" x2="332.0" y2="699.625" stroke="#231f20" stroke-width="0.95" />
<text x="323.3" y="702.125" font-size="9" font-weight="normal" font-style="normal" fill="#231f20" stroke="#231f20" text-anchor="end" >50</text>
<line x1="326.7" y1="675.5500000000001" x2="332.0" y2="675.5500000000001" stroke="#231f20" stroke-width="0.95" />
<text x="323.3" y="678.0500000000001" font-size="9" font-weight="normal" font-style="normal" fill="#231f20" stroke="#231f20" text-anchor="end" >100</text>
<line x1="326.7" y1="651.475" x2="332.0" y2="651.475" stroke="#231f20" stroke-width="0.95" />
<text x="323.3" y="653.975" font-size="9" font-weight="normal" font-style="normal" fill="#231f20" stroke="#231f20" text-anchor="end" >150</text>
<line x1="326.7" y1="627.4000000000001" x2="332.0" y2="627.4000000000001" stroke="#231f20" stroke-width="0.95" />
<text x="323.3" y="629.9000000000001" font-size="9" font-weight="normal" font-style="normal" fill="#231f20" stroke="#231f20" text-anchor="end" >200</text>
<line x1="326.7" y1="603.325" x2="332.0" y2="603.325" stroke="#231f20" stroke-width="0.95" />
<text x="323.3" y="605.825" font-size="9" font-weight="normal" font-style="normal" fill="#231f20" stroke="#231f20" text-anchor="end" >250</text>
<line x1="331.5" y1="723.7" x2="512.5" y2="723.7" stroke="#231f20" stroke-width="1.3" />
<text font-size="9" fill="#231f20" stroke="#231f20" text-anchor="middle" transform="translate(288.0,666.3) rotate(-90)">% of sgRNA-positive cells</text>
<text font-size="9" fill="#231f20" stroke="#231f20" text-anchor="middle" transform="translate(298.6,666.3) rotate(-90)">(normalized to day 0)</text>
<line x1="376.8" y1="603.0" x2="376.8" y2="723.2" stroke="#231f20" stroke-width="1.2" stroke-dasharray="1.3,2.3"/>
<line x1="423.2" y1="603.0" x2="423.2" y2="723.2" stroke="#231f20" stroke-width="1.2" stroke-dasharray="1.3,2.3"/>
<line x1="468.3" y1="603.0" x2="468.3" y2="723.2" stroke="#231f20" stroke-width="1.2" stroke-dasharray="1.3,2.3"/>
<text x="341.0" y="601.1" font-size="9" font-weight="normal" font-style="normal" fill="#27aae1" stroke="#27aae1" text-anchor="start" >HK2.2</text>
<rect x="336.30" y="675.55" width="6.8" height="48.15" fill="#12a5e8" stroke="#161a2a" stroke-width="0.85"/>
<line x1="339.7" y1="723.7" x2="339.7" y2="729.0" stroke="#231f20" stroke-width="0.9" />
<text x="339.7" y="738.9" font-size="9" font-weight="normal" font-style="normal" fill="#231f20" stroke="#231f20" text-anchor="middle" >0</text>
<line x1="349.25" y1="671.6980000000001" x2="349.25" y2="672.6610000000001" stroke="#231f20" stroke-width="1.0" />
<line x1="347.05" y1="671.6980000000001" x2="351.45" y2="671.6980000000001" stroke="#231f20" stroke-width="1.0" />
<rect x="345.85" y="672.66" width="6.8" height="51.04" fill="#12a5e8" stroke="#161a2a" stroke-width="0.85"/>
<line x1="349.25" y1="723.7" x2="349.25" y2="729.0" stroke="#231f20" stroke-width="0.9" />
<text x="349.25" y="738.9" font-size="9" font-weight="normal" font-style="normal" fill="#231f20" stroke="#231f20" text-anchor="middle" >1</text>
<text x="348.65" y="669.60" font-size="8" fill="#231f20" stroke="#231f20" text-anchor="middle">*</text>
<line x1="358.8" y1="632.215" x2="358.8" y2="649.0675000000001" stroke="#231f20" stroke-width="1.0" />
<line x1="356.6" y1="632.215" x2="361.0" y2="632.215" stroke="#231f20" stroke-width="1.0" />
<rect x="355.40" y="649.07" width="6.8" height="74.63" fill="#12a5e8" stroke="#161a2a" stroke-width="0.85"/>
<line x1="358.8" y1="723.7" x2="358.8" y2="729.0" stroke="#231f20" stroke-width="0.9" />
<text x="358.8" y="738.9" font-size="9" font-weight="normal" font-style="normal" fill="#231f20" stroke="#231f20" text-anchor="middle" >3</text>
<text x="358.20" y="630.70" font-size="8" fill="#231f20" stroke="#231f20" text-anchor="middle">*</text>
<line x1="368.34999999999997" y1="617.7700000000001" x2="368.34999999999997" y2="636.5485000000001" stroke="#231f20" stroke-width="1.0" />
<line x1="366.15" y1="617.7700000000001" x2="370.54999999999995" y2="617.7700000000001" stroke="#231f20" stroke-width="1.0" />
<rect x="364.95" y="636.55" width="6.8" height="87.15" fill="#12a5e8" stroke="#161a2a" stroke-width="0.85"/>
<line x1="368.34999999999997" y1="723.7" x2="368.34999999999997" y2="729.0" stroke="#231f20" stroke-width="0.9" />
<text x="368.34999999999997" y="738.9" font-size="9" font-weight="normal" font-style="normal" fill="#231f20" stroke="#231f20" text-anchor="middle" >5</text>
<text x="366.10" y="613.90" font-size="8" fill="#231f20" stroke="#231f20" text-anchor="middle">*</text>
<text x="369.40" y="613.90" font-size="8" fill="#231f20" stroke="#231f20" text-anchor="middle">*</text>
<text x="386.6" y="601.1" font-size="9" font-weight="normal" font-style="normal" fill="#27aae1" stroke="#27aae1" text-anchor="start" >HK2.3</text>
<rect x="381.40" y="675.55" width="6.8" height="48.15" fill="#12a5e8" stroke="#161a2a" stroke-width="0.85"/>
<line x1="384.79999999999995" y1="723.7" x2="384.79999999999995" y2="729.0" stroke="#231f20" stroke-width="0.9" />
<text x="384.79999999999995" y="738.9" font-size="9" font-weight="normal" font-style="normal" fill="#231f20" stroke="#231f20" text-anchor="middle" >0</text>
<line x1="394.34999999999997" y1="673.1425" x2="394.34999999999997" y2="674.1055" stroke="#231f20" stroke-width="1.0" />
<line x1="392.15" y1="673.1425" x2="396.54999999999995" y2="673.1425" stroke="#231f20" stroke-width="1.0" />
<rect x="390.95" y="674.11" width="6.8" height="49.59" fill="#12a5e8" stroke="#161a2a" stroke-width="0.85"/>
<line x1="394.34999999999997" y1="723.7" x2="394.34999999999997" y2="729.0" stroke="#231f20" stroke-width="0.9" />
<text x="394.34999999999997" y="738.9" font-size="9" font-weight="normal" font-style="normal" fill="#231f20" stroke="#231f20" text-anchor="middle" >1</text>
<text x="394.34999999999997" y="670.8" font-size="9" font-weight="normal" font-style="normal" fill="#231f20" stroke="#231f20" text-anchor="middle" >ns</text>
<line x1="403.9" y1="645.697" x2="403.9" y2="657.253" stroke="#231f20" stroke-width="1.0" />
<line x1="401.7" y1="645.697" x2="406.09999999999997" y2="645.697" stroke="#231f20" stroke-width="1.0" />
<rect x="400.50" y="657.25" width="6.8" height="66.45" fill="#12a5e8" stroke="#161a2a" stroke-width="0.85"/>
<line x1="403.9" y1="723.7" x2="403.9" y2="729.0" stroke="#231f20" stroke-width="0.9" />
<text x="403.9" y="738.9" font-size="9" font-weight="normal" font-style="normal" fill="#231f20" stroke="#231f20" text-anchor="middle" >3</text>
<text x="403.30" y="645.00" font-size="8" fill="#231f20" stroke="#231f20" text-anchor="middle">*</text>
<line x1="413.44999999999993" y1="638.4745" x2="413.44999999999993" y2="651.475" stroke="#231f20" stroke-width="1.0" />
<line x1="411.24999999999994" y1="638.4745" x2="415.6499999999999" y2="638.4745" stroke="#231f20" stroke-width="1.0" />
<rect x="410.05" y="651.48" width="6.8" height="72.23" fill="#12a5e8" stroke="#161a2a" stroke-width="0.85"/>
<line x1="413.44999999999993" y1="723.7" x2="413.44999999999993" y2="729.0" stroke="#231f20" stroke-width="0.9" />
<text x="413.44999999999993" y="738.9" font-size="9" font-weight="normal" font-style="normal" fill="#231f20" stroke="#231f20" text-anchor="middle" >5</text>
<text x="411.20" y="634.90" font-size="8" fill="#231f20" stroke="#231f20" text-anchor="middle">*</text>
<text x="414.50" y="634.90" font-size="8" fill="#231f20" stroke="#231f20" text-anchor="middle">*</text>
<text x="431.6" y="601.1" font-size="9" font-weight="normal" font-style="normal" fill="#2e3192" stroke="#2e3192" text-anchor="start" >PGP.2</text>
<rect x="426.90" y="675.55" width="6.8" height="48.15" fill="#2c2e90" stroke="#161a2a" stroke-width="0.85"/>
<line x1="430.29999999999995" y1="723.7" x2="430.29999999999995" y2="729.0" stroke="#231f20" stroke-width="0.9" />
<text x="430.29999999999995" y="738.9" font-size="9" font-weight="normal" font-style="normal" fill="#231f20" stroke="#231f20" text-anchor="middle" >0</text>
<line x1="439.84999999999997" y1="672.6610000000001" x2="439.84999999999997" y2="673.1425" stroke="#231f20" stroke-width="1.0" />
<line x1="437.65" y1="672.6610000000001" x2="442.04999999999995" y2="672.6610000000001" stroke="#231f20" stroke-width="1.0" />
<rect x="436.45" y="673.14" width="6.8" height="50.56" fill="#2c2e90" stroke="#161a2a" stroke-width="0.85"/>
<line x1="439.84999999999997" y1="723.7" x2="439.84999999999997" y2="729.0" stroke="#231f20" stroke-width="0.9" />
<text x="439.84999999999997" y="738.9" font-size="9" font-weight="normal" font-style="normal" fill="#231f20" stroke="#231f20" text-anchor="middle" >1</text>
<text x="439.84999999999997" y="670.3" font-size="9" font-weight="normal" font-style="normal" fill="#231f20" stroke="#231f20" text-anchor="middle" >ns</text>
<line x1="449.4" y1="652.9195000000001" x2="449.4" y2="657.7345" stroke="#231f20" stroke-width="1.0" />
<line x1="447.2" y1="652.9195000000001" x2="451.59999999999997" y2="652.9195000000001" stroke="#231f20" stroke-width="1.0" />
<rect x="446.00" y="657.73" width="6.8" height="65.97" fill="#2c2e90" stroke="#161a2a" stroke-width="0.85"/>
<line x1="449.4" y1="723.7" x2="449.4" y2="729.0" stroke="#231f20" stroke-width="0.9" />
<text x="449.4" y="738.9" font-size="9" font-weight="normal" font-style="normal" fill="#231f20" stroke="#231f20" text-anchor="middle" >3</text>
<text x="447.15" y="651.30" font-size="8" fill="#231f20" stroke="#231f20" text-anchor="middle">*</text>
<text x="450.45" y="651.30" font-size="8" fill="#231f20" stroke="#231f20" text-anchor="middle">*</text>
<line x1="458.94999999999993" y1="639.4375" x2="458.94999999999993" y2="640.4005000000001" stroke="#231f20" stroke-width="1.0" />
<line x1="456.74999999999994" y1="639.4375" x2="461.1499999999999" y2="639.4375" stroke="#231f20" stroke-width="1.0" />
<rect x="455.55" y="640.40" width="6.8" height="83.30" fill="#2c2e90" stroke="#161a2a" stroke-width="0.85"/>
<line x1="458.94999999999993" y1="723.7" x2="458.94999999999993" y2="729.0" stroke="#231f20" stroke-width="0.9" />
<text x="458.94999999999993" y="738.9" font-size="9" font-weight="normal" font-style="normal" fill="#231f20" stroke="#231f20" text-anchor="middle" >5</text>
<text x="455.05" y="634.90" font-size="8" fill="#231f20" stroke="#231f20" text-anchor="middle">*</text>
<text x="458.35" y="634.90" font-size="8" fill="#231f20" stroke="#231f20" text-anchor="middle">*</text>
<text x="461.65" y="634.90" font-size="8" fill="#231f20" stroke="#231f20" text-anchor="middle">*</text>
<text x="475.4" y="601.1" font-size="9" font-weight="normal" font-style="normal" fill="#2e3192" stroke="#2e3192" text-anchor="start" >PGP.4</text>
<rect x="472.10" y="675.55" width="6.8" height="48.15" fill="#2c2e90" stroke="#161a2a" stroke-width="0.85"/>
<line x1="475.5" y1="723.7" x2="475.5" y2="729.0" stroke="#231f20" stroke-width="0.9" />
<text x="475.5" y="738.9" font-size="9" font-weight="normal" font-style="normal" fill="#231f20" stroke="#231f20" text-anchor="middle" >0</text>
<line x1="485.05" y1="674.587" x2="485.05" y2="676.0315" stroke="#231f20" stroke-width="1.0" />
<line x1="482.85" y1="674.587" x2="487.25" y2="674.587" stroke="#231f20" stroke-width="1.0" />
<rect x="481.65" y="676.03" width="6.8" height="47.67" fill="#2c2e90" stroke="#161a2a" stroke-width="0.85"/>
<line x1="485.05" y1="723.7" x2="485.05" y2="729.0" stroke="#231f20" stroke-width="0.9" />
<text x="485.05" y="738.9" font-size="9" font-weight="normal" font-style="normal" fill="#231f20" stroke="#231f20" text-anchor="middle" >1</text>
<text x="485.05" y="670.3" font-size="9" font-weight="normal" font-style="normal" fill="#231f20" stroke="#231f20" text-anchor="middle" >ns</text>
<line x1="494.6" y1="652.4380000000001" x2="494.6" y2="660.142" stroke="#231f20" stroke-width="1.0" />
<line x1="492.40000000000003" y1="652.4380000000001" x2="496.8" y2="652.4380000000001" stroke="#231f20" stroke-width="1.0" />
<rect x="491.20" y="660.14" width="6.8" height="63.56" fill="#2c2e90" stroke="#161a2a" stroke-width="0.85"/>
<line x1="494.6" y1="723.7" x2="494.6" y2="729.0" stroke="#231f20" stroke-width="0.9" />
<text x="494.6" y="738.9" font-size="9" font-weight="normal" font-style="normal" fill="#231f20" stroke="#231f20" text-anchor="middle" >3</text>
<text x="494.00" y="651.30" font-size="8" fill="#231f20" stroke="#231f20" text-anchor="middle">*</text>
<line x1="504.15" y1="639.4375" x2="504.15" y2="642.808" stroke="#231f20" stroke-width="1.0" />
<line x1="501.95" y1="639.4375" x2="506.34999999999997" y2="639.4375" stroke="#231f20" stroke-width="1.0" />
<rect x="500.75" y="642.81" width="6.8" height="80.89" fill="#2c2e90" stroke="#161a2a" stroke-width="0.85"/>
<line x1="504.15" y1="723.7" x2="504.15" y2="729.0" stroke="#231f20" stroke-width="0.9" />
<text x="504.15" y="738.9" font-size="9" font-weight="normal" font-style="normal" fill="#231f20" stroke="#231f20" text-anchor="middle" >5</text>
<text x="500.25" y="634.90" font-size="8" fill="#231f20" stroke="#231f20" text-anchor="middle">*</text>
<text x="503.55" y="634.90" font-size="8" fill="#231f20" stroke="#231f20" text-anchor="middle">*</text>
<text x="506.85" y="634.90" font-size="8" fill="#231f20" stroke="#231f20" text-anchor="middle">*</text>
<text x="423.8" y="750.2" font-size="9" font-weight="normal" font-style="normal" fill="#231f20" stroke="#231f20" text-anchor="middle" >Time (days)</text>
</svg>
</body></html>
